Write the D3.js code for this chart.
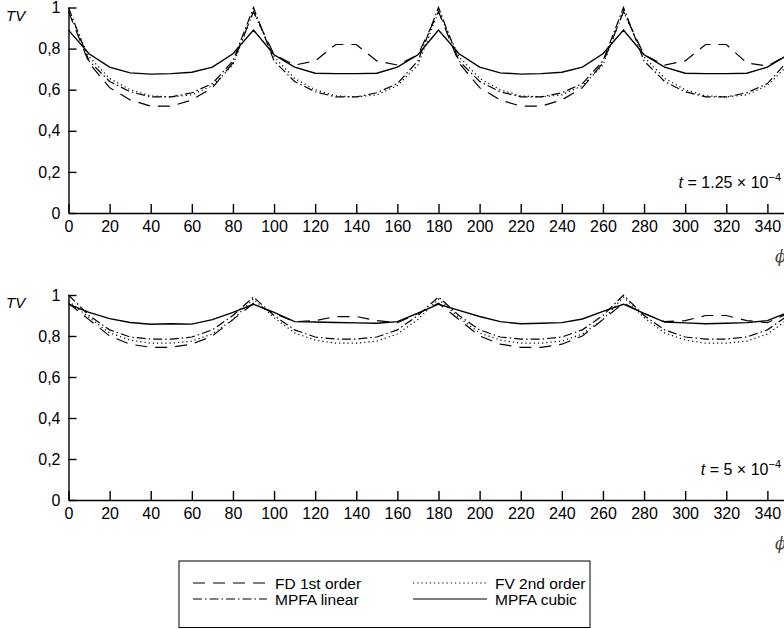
<!DOCTYPE html>
<html>
<head>
<meta charset="utf-8">
<script src="https://cdn.jsdelivr.net/npm/d3@7"></script>
<style>
  body { margin: 0; background: #fff; }
  svg { display: block; font-family: "Liberation Sans", Arial, sans-serif; }
  .axis path, .axis line { stroke: #000; stroke-width: 1.4; }
  .axis text { font-size: 16px; fill: #000; font-family: "Liberation Sans", Arial, sans-serif; }
</style>
</head>
<body>
<svg id="chart" width="784" height="629"></svg>
<script>
// angle phi in degrees, sampled every 10 degrees
const phi = [0, 10, 20, 30, 40, 50, 60, 70, 80, 90,
  100, 110, 120, 130, 140, 150, 160, 170, 180,
  190, 200, 210, 220, 230, 240, 250, 260, 270,
  280, 290, 300, 310, 320, 330, 340, 350, 360];

// top panel, t = 1.25e-4
const fdTop = [0.98, 0.73, 0.61, 0.55, 0.52, 0.52, 0.55, 0.61, 0.73, 0.98,
  0.77, 0.72, 0.74, 0.82, 0.82, 0.74, 0.72, 0.77, 0.98,
  0.73, 0.61, 0.55, 0.52, 0.52, 0.55, 0.61, 0.73, 0.98,
  0.77, 0.72, 0.74, 0.82, 0.82, 0.73, 0.715, 0.77, 0.98];
const fvTop = [0.98, 0.76, 0.655, 0.6, 0.57, 0.565, 0.575, 0.62, 0.72, 0.98,
  0.76, 0.655, 0.6, 0.57, 0.565, 0.575, 0.62, 0.72, 0.98,
  0.76, 0.655, 0.6, 0.57, 0.565, 0.575, 0.62, 0.72, 0.98,
  0.76, 0.655, 0.6, 0.57, 0.565, 0.575, 0.62, 0.72, 0.98];
const linTop = [1.0, 0.74, 0.64, 0.59, 0.565, 0.565, 0.585, 0.63, 0.74, 1.0,
  0.74, 0.64, 0.59, 0.565, 0.565, 0.585, 0.63, 0.74, 1.0,
  0.74, 0.64, 0.59, 0.565, 0.565, 0.585, 0.63, 0.74, 1.0,
  0.74, 0.64, 0.59, 0.565, 0.565, 0.585, 0.63, 0.74, 1.0];
const cubTop = [0.89, 0.775, 0.71, 0.682, 0.676, 0.678, 0.685, 0.71, 0.775, 0.89,
  0.77, 0.71, 0.68, 0.678, 0.678, 0.68, 0.71, 0.77, 0.89,
  0.775, 0.71, 0.682, 0.676, 0.678, 0.685, 0.71, 0.775, 0.89,
  0.77, 0.71, 0.68, 0.678, 0.678, 0.68, 0.71, 0.77, 0.89];

// bottom panel, t = 5e-4
const fdBot = [0.96, 0.88, 0.80, 0.76, 0.745, 0.745, 0.76, 0.80, 0.88, 0.96,
  0.91, 0.87, 0.875, 0.895, 0.895, 0.875, 0.865, 0.91, 0.96,
  0.88, 0.80, 0.76, 0.745, 0.745, 0.76, 0.80, 0.88, 0.96,
  0.91, 0.87, 0.875, 0.9, 0.9, 0.875, 0.865, 0.91, 0.96];
const fvBot = [0.97, 0.89, 0.815, 0.78, 0.765, 0.765, 0.775, 0.81, 0.88, 0.98,
  0.89, 0.815, 0.78, 0.765, 0.765, 0.775, 0.81, 0.88, 0.98,
  0.89, 0.815, 0.78, 0.765, 0.765, 0.775, 0.81, 0.88, 0.99,
  0.89, 0.815, 0.78, 0.765, 0.765, 0.775, 0.81, 0.88, 0.98];
const linBot = [1.0, 0.90, 0.83, 0.795, 0.785, 0.785, 0.795, 0.83, 0.90, 0.99,
  0.90, 0.83, 0.795, 0.785, 0.785, 0.795, 0.83, 0.90, 0.99,
  0.90, 0.83, 0.795, 0.785, 0.785, 0.795, 0.83, 0.90, 1.0,
  0.90, 0.83, 0.795, 0.785, 0.785, 0.795, 0.83, 0.90, 0.99];
const cubBot = [0.955, 0.915, 0.885, 0.866, 0.857, 0.86, 0.858, 0.88, 0.915, 0.955,
  0.915, 0.87, 0.868, 0.866, 0.864, 0.862, 0.87, 0.912, 0.955,
  0.925, 0.895, 0.87, 0.86, 0.862, 0.865, 0.883, 0.92, 0.955,
  0.91, 0.868, 0.864, 0.86, 0.862, 0.865, 0.875, 0.915, 0.955];

const xTicks = d3.range(0, 361, 20);
const yTicks = [0, 0.2, 0.4, 0.6, 0.8, 1];

const seriesNames = ['FD 1st order', 'FV 2nd order', 'MPFA linear', 'MPFA cubic'];
const seriesDash = {
  'FD 1st order': '12,8',
  'FV 2nd order': '1.2,3',
  'MPFA linear': '9,3,1.5,3',
  'MPFA cubic': null
};

const svg = d3.select('#chart');
const x = d3.scaleLinear().domain([0, 360]).range([68.5, 808.5]);

function yLabel(d) {
  if (d === 0) return '0';
  if (d === 1) return '1';
  return d3.format('.1f')(d).replace('.', ',');
}

function drawPanel(top, bottom, data, timeLabel, timeExp) {
  const y = d3.scaleLinear().domain([0, 1]).range([bottom, top]);
  const g = svg.append('g');

  g.append('g')
    .attr('class', 'axis')
    .attr('transform', `translate(0,${bottom})`)
    .call(d3.axisBottom(x).tickValues(xTicks).tickSize(-9).tickSizeOuter(0).tickPadding(8))
    .call(a => a.selectAll('text').attr('dy', '0.71em'));

  g.append('g')
    .attr('class', 'axis')
    .attr('transform', `translate(${x(0)},0)`)
    .call(d3.axisLeft(y).tickValues(yTicks).tickSize(-8).tickSizeOuter(0).tickPadding(8).tickFormat(yLabel));

  const line = d3.line()
    .x((d, i) => x(phi[i]))
    .y(d => y(d));

  data.forEach((vals, k) => {
    const name = seriesNames[k];
    g.append('path')
      .datum(vals)
      .attr('d', line)
      .attr('fill', 'none')
      .attr('stroke', '#000')
      .attr('stroke-width', name === 'MPFA cubic' ? 1.4 : 1.2)
      .attr('stroke-dasharray', seriesDash[name]);
  });

  // TV label
  g.append('text')
    .attr('x', 6).attr('y', top + 13)
    .attr('font-size', 15).attr('font-style', 'italic')
    .text('TV');

  // phi label
  g.append('text')
    .attr('x', 775).attr('y', bottom + 49)
    .attr('font-size', 16).attr('font-style', 'italic').attr('fill', '#444')
    .attr('font-family', 'DejaVu Serif')
    .text('\u03D5');

  // time annotation
  const t = g.append('text')
    .attr('x', 781).attr('y', bottom - 25)
    .attr('text-anchor', 'end')
    .attr('font-size', 16);
  t.append('tspan').attr('font-style', 'italic').text('t');
  t.append('tspan').text(` = ${timeLabel} \u00D7 10`);
  t.append('tspan').attr('font-size', 11).attr('dy', -7).text(timeExp);
}

drawPanel(7.5, 213, [fdTop, fvTop, linTop, cubTop], '1.25', '\u22124');
drawPanel(295, 500, [fdBot, fvBot, linBot, cubBot], '5', '\u22124');

// legend
const legend = svg.append('g');
legend.append('rect')
  .attr('x', 179).attr('y', 561).attr('width', 411).attr('height', 66.5)
  .attr('fill', 'none').attr('stroke', '#000').attr('stroke-width', 1);

const legendPos = [
  { name: 'FD 1st order', x: 193, y: 583 },
  { name: 'FV 2nd order', x: 413, y: 583 },
  { name: 'MPFA linear', x: 193, y: 599 },
  { name: 'MPFA cubic', x: 413, y: 599 }
];

legendPos.forEach(d => {
  legend.append('line')
    .attr('x1', d.x).attr('x2', d.x + 74)
    .attr('y1', d.y).attr('y2', d.y)
    .attr('stroke', '#000').attr('stroke-width', 1.2)
    .attr('stroke-dasharray', seriesDash[d.name]);
  legend.append('text')
    .attr('x', d.x + 82).attr('y', d.y + 5.5)
    .attr('font-size', 15.5)
    .text(d.name);
});
</script>
</body>
</html>
